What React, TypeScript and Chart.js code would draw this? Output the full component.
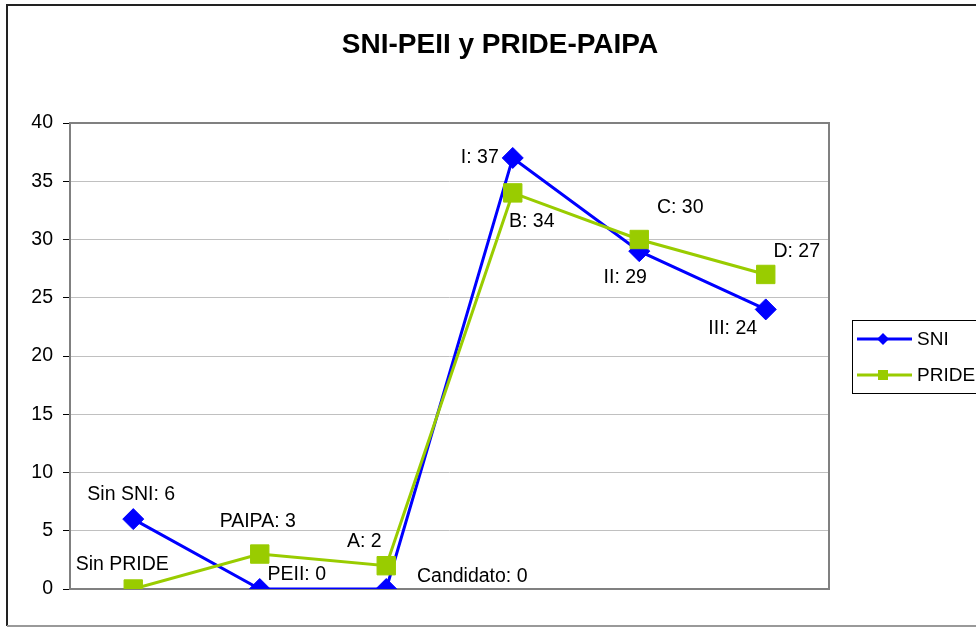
import React, { useEffect, useRef } from 'react';
import { Chart, registerables } from 'chart.js';

Chart.register(...registerables);

const categories = ['Nivel 0', 'Nivel 1', 'Nivel 2', 'Nivel 3', 'Nivel 4', 'Nivel 5'];
const sniValues = [6, 0, 0, 37, 29, 24];
const prideValues = [0, 3, 2, 34, 30, 27];
const sniLabels = ['Sin SNI: 6', 'PEII: 0', 'Candidato: 0', 'I: 37', 'II: 29', 'III: 24'];
const prideLabels = ['Sin PRIDE', 'PAIPA: 3', 'A: 2', 'B: 34', 'C: 30', 'D: 27'];
const seriesNames = ['SNI', 'PRIDE'];
const titleText = 'SNI-PEII y PRIDE-PAIPA';
const yMin = 0;
const yMax = 40;
const yStep = 5;

// label placement (style): offsets of label centre from point, px
const sniLabelOffsets = [
  [-2, -24], [37, -14], [86, -12], [-33, 0], [-14, 26], [-33, 19],
];
const prideLabelOffsets = [
  [-11, -24], [-2, -32], [-22, -24], [19, 29], [41, -32], [31, -23],
];

const BLUE = '#0000FF';
const GREEN = '#99CC00';
const FONT = '"Liberation Sans", Arial, sans-serif';

const decorPlugin = {
  id: 'decor',
  beforeDraw(chart: any) {
    const ctx = chart.ctx;
    ctx.save();
    ctx.fillStyle = '#fff';
    ctx.fillRect(0, 0, chart.width, chart.height);
    // outer border
    ctx.lineWidth = 2;
    ctx.strokeStyle = '#222';
    ctx.beginPath();
    ctx.moveTo(7, 626);
    ctx.lineTo(7, 5);
    ctx.lineTo(chart.width + 2, 5);
    ctx.stroke();
    ctx.strokeStyle = '#999';
    ctx.beginPath();
    ctx.moveTo(7, 626);
    ctx.lineTo(chart.width + 2, 626);
    ctx.stroke();
    // title
    ctx.fillStyle = '#000';
    ctx.font = `bold 28px ${FONT}`;
    ctx.textAlign = 'center';
    ctx.textBaseline = 'middle';
    ctx.fillText(titleText, 500, 45);
    ctx.restore();
  },
  beforeDatasetsDraw(chart: any) {
    const ctx = chart.ctx;
    const a = chart.chartArea;
    ctx.save();
    ctx.strokeStyle = '#808080';
    ctx.lineWidth = 2;
    ctx.strokeRect(a.left, a.top, a.right - a.left, a.bottom - a.top);
    ctx.restore();
  },
  afterDatasetsDraw(chart: any) {
    const ctx = chart.ctx;
    ctx.save();
    ctx.fillStyle = '#000';
    ctx.font = `19.5px ${FONT}`;
    ctx.textAlign = 'center';
    ctx.textBaseline = 'middle';
    const sets = [
      { idx: 0, labels: sniLabels, offs: sniLabelOffsets },
      { idx: 1, labels: prideLabels, offs: prideLabelOffsets },
    ];
    sets.forEach((s) => {
      const meta = chart.getDatasetMeta(s.idx);
      meta.data.forEach((pt: any, i: number) => {
        const [dx, dy] = s.offs[i];
        ctx.fillText(s.labels[i], pt.x + dx, pt.y + dy);
      });
    });
    ctx.restore();
  },
  afterDraw(chart: any) {
    const ctx = chart.ctx;
    ctx.save();
    // legend box
    ctx.strokeStyle = '#000';
    ctx.lineWidth = 1;
    ctx.strokeRect(852.5, 320.5, 130, 73);
    const entries = [
      { name: seriesNames[0], color: BLUE, y: 339, shape: 'diamond' },
      { name: seriesNames[1], color: GREEN, y: 375, shape: 'square' },
    ];
    entries.forEach((e) => {
      ctx.strokeStyle = e.color;
      ctx.fillStyle = e.color;
      ctx.lineWidth = 3;
      ctx.beginPath();
      ctx.moveTo(857, e.y);
      ctx.lineTo(912, e.y);
      ctx.stroke();
      ctx.beginPath();
      if (e.shape === 'diamond') {
        ctx.moveTo(883, e.y - 6);
        ctx.lineTo(889, e.y);
        ctx.lineTo(883, e.y + 6);
        ctx.lineTo(877, e.y);
        ctx.closePath();
        ctx.fill();
      } else {
        ctx.fillRect(878, e.y - 5, 10, 10);
      }
      ctx.fillStyle = '#000';
      ctx.font = `19px ${FONT}`;
      ctx.textAlign = 'left';
      ctx.textBaseline = 'middle';
      ctx.fillText(e.name, 917, e.y + 1);
    });
    ctx.restore();
  },
};

export default function App() {
  const ref = useRef<HTMLCanvasElement | null>(null);
  useEffect(() => {
    document.body.style.margin = '0';
    if (!ref.current) return;
    const chart = new Chart(ref.current, {
      type: 'line',
      data: {
        labels: categories,
        datasets: [
          {
            label: seriesNames[0],
            data: sniValues,
            borderColor: BLUE,
            backgroundColor: BLUE,
            borderWidth: 3,
            pointStyle: 'rectRot',
            pointRadius: 10.5,
            pointBorderWidth: 1,
            pointBorderColor: BLUE,
            pointBackgroundColor: BLUE,
            tension: 0,
            order: 1,
          },
          {
            label: seriesNames[1],
            data: prideValues,
            borderColor: GREEN,
            backgroundColor: GREEN,
            borderWidth: 3,
            pointStyle: 'rect',
            pointRadius: 13,
            pointBorderWidth: 1,
            pointBorderColor: GREEN,
            pointBackgroundColor: GREEN,
            tension: 0,
            order: 0,
          },
        ],
      },
      options: {
        responsive: false,
        animation: false,
        layout: { padding: { left: 0, top: 123, right: 147, bottom: 39 } },
        plugins: {
          legend: { display: false },
          title: { display: false },
          tooltip: { enabled: false },
        },
        scales: {
          x: {
            type: 'category',
            offset: true,
            display: false,
          },
          y: {
            min: yMin,
            max: yMax,
            afterFit: (scale: any) => {
              scale.width = 70;
            },
            ticks: {
              stepSize: yStep,
              color: '#000',
              font: { family: FONT, size: 19.5 },
              padding: 10,
            },
            grid: {
              color: '#c0c0c0',
              lineWidth: 1,
              tickColor: '#000',
              tickLength: 7,
            },
            border: { display: false },
          },
        },
      },
      plugins: [decorPlugin],
    });
    return () => chart.destroy();
  }, []);
  return (
    <div style={{ width: 976, height: 628 }}>
      <canvas ref={ref} width={976} height={628} style={{ display: 'block' }} />
    </div>
  );
}
